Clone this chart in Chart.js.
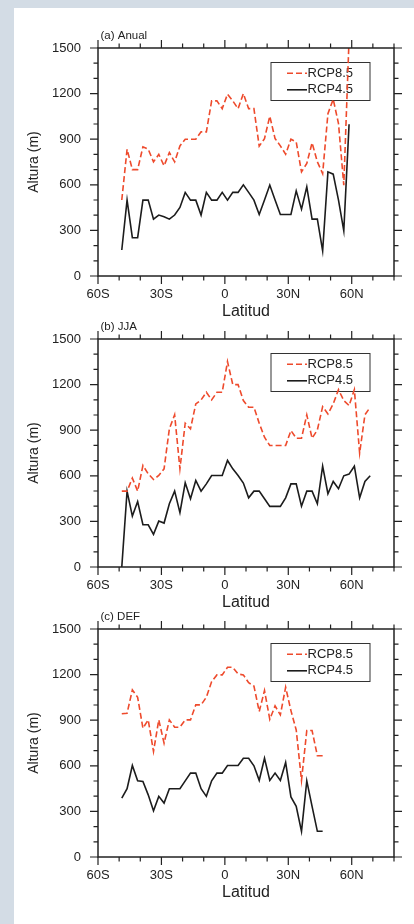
<!DOCTYPE html>
<html lang="es">
<head>
<meta charset="UTF-8">
<title>Altura por latitud - RCP8.5 / RCP4.5</title>
<script src="https://cdn.jsdelivr.net/npm/chart.js"></script>
<style>
  html, body { margin: 0; padding: 0; }
  body {
    width: 414px;
    height: 924px;
    background: #ffffff;
    position: relative;
    overflow: hidden;
  }
  .strip-top { position: absolute; left: 0; top: 0; width: 414px; height: 8px; background: #d3dce5; }
  .strip-left { position: absolute; left: 0; top: 0; width: 14px; height: 924px; background: #d3dce5; }
  .panel { position: absolute; left: 0; width: 414px; height: 330px; }
</style>
</head>
<body>
<div class="strip-top"></div>
<div class="strip-left"></div>
<div class="panel" style="top:0px"><canvas id="anual" width="414" height="330"></canvas></div>
<div class="panel" style="top:291px"><canvas id="jja" width="414" height="330"></canvas></div>
<div class="panel" style="top:581px"><canvas id="def" width="414" height="330"></canvas></div>

<script>
// latitude of each grid point (degrees, south negative)
const latitudes = [-48.75, -46.25, -43.75, -41.25, -38.75, -36.25, -33.75, -31.25, -28.75, -26.25,
  -23.75, -21.25, -18.75, -16.25, -13.75, -11.25, -8.75, -6.25, -3.75, -1.25,
  1.25, 3.75, 6.25, 8.75, 11.25, 13.75, 16.25, 18.75, 21.25, 23.75,
  26.25, 28.75, 31.25, 33.75, 36.25, 38.75, 41.25, 43.75, 46.25, 48.75,
  51.25, 53.75, 56.25, 58.75, 61.25, 63.75, 66.25, 68.75];

// (a) Anual
const rcp85Anual = [500, 834, 700, 700, 850, 834, 751, 800, 725, 812, 751, 856, 900, 900, 900, 948, 948, 1152, 1152, 1101,
  1196, 1152, 1101, 1200, 1101, 1101, 854, 904, 1051, 904, 856, 801, 900, 882, 685, 740, 876, 751, 674, 1068,
  1163, 1003, 598, 1560];
const rcp45Anual = [171, 499, 252, 252, 499, 499, 374, 401, 390, 374, 401, 451, 550, 499, 499, 401, 550, 499, 499, 550,
  499, 550, 550, 600, 550, 499, 405, 500, 598, 500, 405, 405, 405, 560, 440, 587, 374, 374, 166, 685,
  670, 499, 298, 998];

// (b) JJA
const rcp85JJA = [499, 499, 585, 499, 668, 613, 576, 602, 646, 909, 1001, 646, 946, 909, 1073, 1099, 1150, 1099, 1150, 1150,
  1351, 1200, 1200, 1095, 1051, 1051, 946, 854, 799, 799, 799, 799, 898, 847, 847, 1001, 847, 902, 1055, 1007,
  1073, 1167, 1095, 1062, 1167, 749, 1001, 1051];
const rcp45JJA = [0, 499, 335, 431, 278, 278, 215, 302, 289, 416, 499, 357, 554, 449, 569, 499, 547, 602, 602, 602,
  701, 646, 602, 552, 455, 499, 499, 449, 399, 399, 399, 455, 547, 547, 400, 499, 499, 416, 663, 482,
  563, 515, 600, 611, 663, 455, 563, 600];

// (c) DEF
const rcp85DEF = [942, 946, 1099, 1051, 847, 902, 694, 902, 749, 902, 854, 854, 902, 902, 1001, 1001, 1051, 1154, 1198, 1198,
  1248, 1248, 1204, 1198, 1147, 1125, 957, 1095, 906, 994, 935, 1117, 963, 836, 504, 832, 832, 666, 666];
const rcp45DEF = [388, 449, 602, 501, 497, 409, 304, 399, 355, 449, 449, 449, 501, 552, 552, 449, 399, 501, 552, 552,
  602, 602, 602, 650, 650, 600, 504, 650, 504, 552, 504, 622, 395, 333, 169, 501, 333, 169, 169];

// axes
const xMajor = [-60, -30, 0, 30, 60];
const xLabels = ['60S', '30S', '0', '30N', '60N'];
const xMinor = [-50, -40, -20, -10, 10, 20, 40, 50, 70, 80];
const yMajor = [0, 300, 600, 900, 1200, 1500];
const yMinor = [100, 200, 400, 500, 700, 800, 1000, 1100, 1300, 1400];

const seriesNames = ['RCP8.5', 'RCP4.5'];
const FONT = "'Liberation Sans', Arial, sans-serif";
const INK = '#222222';

const panelDecor = {
  id: 'panelDecor',
  beforeDatasetsDraw(chart) {
    const a = chart.chartArea;
    const ctx = chart.ctx;
    const bx = a.left + 173, by = a.top + 14.5, bw = 99, bh = 38;
    ctx.save();
    ctx.strokeStyle = '#333333';
    ctx.lineWidth = 1;
    ctx.strokeRect(bx, by, bw, bh);
    chart.data.datasets.forEach((ds, i) => {
      const y = by + 10.7 + i * 16.6;
      ctx.strokeStyle = ds.borderColor;
      ctx.lineWidth = ds.borderWidth;
      ctx.setLineDash(ds.borderDash || []);
      ctx.beginPath();
      ctx.moveTo(bx + 16, y);
      ctx.lineTo(bx + 36, y);
      ctx.stroke();
      ctx.setLineDash([]);
      ctx.fillStyle = INK;
      ctx.font = '13px ' + FONT;
      ctx.textAlign = 'left';
      ctx.textBaseline = 'middle';
      ctx.fillText(ds.label, bx + 36.5, y);
    });
    ctx.restore();
  },
  afterDatasetsDraw(chart) {
    const a = chart.chartArea;
    const ctx = chart.ctx;
    const xs = chart.scales.x, ys = chart.scales.y;
    ctx.save();
    ctx.strokeStyle = INK;
    ctx.lineWidth = 1.5;
    ctx.strokeRect(a.left, a.top, a.right - a.left, a.bottom - a.top);
    ctx.lineWidth = 1.2;
    ctx.beginPath();
    const xTick = (v, len) => {
      const px = xs.getPixelForValue(v);
      ctx.moveTo(px, a.bottom); ctx.lineTo(px, a.bottom + len);
      ctx.moveTo(px, a.top); ctx.lineTo(px, a.top - len);
    };
    const yTick = (v, len) => {
      const py = ys.getPixelForValue(v);
      ctx.moveTo(a.left, py); ctx.lineTo(a.left - len, py);
      ctx.moveTo(a.right, py); ctx.lineTo(a.right + len, py);
    };
    xMajor.forEach(v => xTick(v, 8));
    xMinor.forEach(v => xTick(v, 4.5));
    yMajor.forEach(v => yTick(v, 8));
    yMinor.forEach(v => yTick(v, 4.5));
    ctx.stroke();
    ctx.restore();
  },
  afterDraw(chart, args, opts) {
    const a = chart.chartArea;
    const ctx = chart.ctx;
    ctx.save();
    ctx.fillStyle = INK;
    ctx.font = '11.5px ' + FONT;
    ctx.textAlign = 'left';
    ctx.textBaseline = 'middle';
    ctx.fillText(opts.label, a.left + 2.5, a.top - 12.5);
    ctx.restore();
  }
};

function makePanel(id, label, high, low) {
  const ctx = document.getElementById(id).getContext('2d');
  return new Chart(ctx, {
    type: 'line',
    data: {
      datasets: [
        {
          label: seriesNames[0],
          data: high.map((v, i) => ({ x: latitudes[i], y: v })),
          borderColor: '#ee4a2c',
          borderWidth: 1.6,
          borderDash: [6, 3],
          pointRadius: 0,
          tension: 0,
          fill: false
        },
        {
          label: seriesNames[1],
          data: low.map((v, i) => ({ x: latitudes[i], y: v })),
          borderColor: '#1c1c1c',
          borderWidth: 1.6,
          pointRadius: 0,
          tension: 0,
          fill: false
        }
      ]
    },
    options: {
      responsive: false,
      animation: false,
      events: [],
      layout: { padding: { top: 48, right: 20, bottom: 0, left: 0 } },
      scales: {
        x: {
          type: 'linear',
          min: -60,
          max: 80,
          afterBuildTicks: s => { s.ticks = xMajor.map(v => ({ value: v })); },
          afterFit: s => { s.height = 54; },
          grid: { display: false, drawTicks: false },
          border: { display: false },
          ticks: {
            padding: 10.5,
            color: INK,
            font: { family: FONT, size: 13 },
            maxRotation: 0,
            autoSkip: false,
            callback: v => xLabels[xMajor.indexOf(v)]
          },
          title: {
            display: true,
            text: 'Latitud',
            color: INK,
            font: { family: FONT, size: 16 },
            padding: { top: 0, bottom: 8.4 }
          }
        },
        y: {
          min: 0,
          max: 1500,
          afterBuildTicks: s => { s.ticks = yMajor.map(v => ({ value: v })); },
          afterFit: s => { s.width = 98; },
          grid: { display: false, drawTicks: false },
          border: { display: false },
          ticks: {
            padding: 17,
            color: INK,
            font: { family: FONT, size: 13 },
            autoSkip: false,
            callback: v => String(v)
          },
          title: {
            display: true,
            text: 'Altura (m)',
            color: INK,
            font: { family: FONT, size: 14 },
            padding: { top: 25.6, bottom: 0 }
          }
        }
      },
      plugins: {
        legend: { display: false },
        tooltip: { enabled: false },
        panelDecor: { label: label }
      }
    },
    plugins: [panelDecor]
  });
}

makePanel('anual', '(a) Anual', rcp85Anual, rcp45Anual);
makePanel('jja', '(b) JJA', rcp85JJA, rcp45JJA);
makePanel('def', '(c) DEF', rcp85DEF, rcp45DEF);
</script>
</body>
</html>
